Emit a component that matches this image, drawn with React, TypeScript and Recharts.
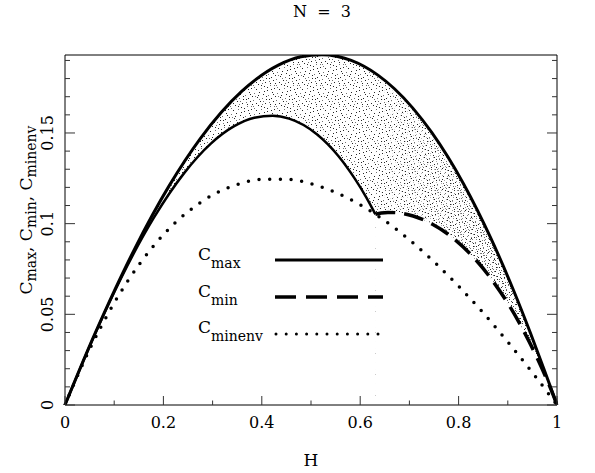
import { Area, ComposedChart, Line, XAxis, YAxis } from "recharts";

// upper bound C_max(H)
const H_MAX = [0, 0.0573, 0.1019, 0.1416, 0.2122, 0.275, 0.359, 0.4337, 0.4794, 0.5222, 0.5817, 0.636, 0.6696, 0.7453, 0.8102, 0.865, 0.9103, 0.9464, 0.9734, 0.9912, 1];
const C_MAX = [0, 0.0371, 0.0639, 0.0861, 0.1211, 0.1469, 0.1729, 0.1874, 0.192, 0.1932, 0.19, 0.1819, 0.1744, 0.1503, 0.1219, 0.0923, 0.0641, 0.0394, 0.0199, 0.0066, 0];

// lower bound C_min(H), first branch up to the cusp
const H_MIN1 = [0, 0.051, 0.0892, 0.1807, 0.2425, 0.2959, 0.343, 0.3848, 0.4221, 0.4555, 0.5119, 0.556, 0.5893, 0.6126, 0.6264, 0.6302, 0.6309];
const C_MIN1 = [0, 0.033, 0.056, 0.1033, 0.128, 0.144, 0.1536, 0.1584, 0.1595, 0.1579, 0.1493, 0.1372, 0.1247, 0.1144, 0.1075, 0.1055, 0.1052];

// second branch after the cusp
const H_MIN2 = [0.6309, 0.6428, 0.6564, 0.6756, 0.7076, 0.7469, 0.7801, 0.8637, 0.9211, 0.9602, 0.9851, 0.9977, 1];
const C_MIN2 = [0.1052, 0.1059, 0.1062, 0.106, 0.1042, 0.0997, 0.0939, 0.0705, 0.0464, 0.0256, 0.0103, 0.0017, 0];

// envelope of the minimum
const H_ENV = [0, 0.05, 0.1, 0.15, 0.2, 0.25, 0.3, 0.35, 0.4, 0.45, 0.5, 0.55, 0.6, 0.65, 0.7, 0.75, 0.8, 0.85, 0.9, 0.95, 1];
const C_ENV = [0, 0.0307, 0.0563, 0.0772, 0.0939, 0.1066, 0.1158, 0.1216, 0.1244, 0.1245, 0.122, 0.1172, 0.1104, 0.1016, 0.0911, 0.079, 0.0655, 0.0508, 0.0348, 0.0179, 0];

const X_TICKS = [0, 0.1, 0.2, 0.3, 0.4, 0.5, 0.6, 0.7, 0.8, 0.9, 1];
const Y_TICKS = [0, 0.01, 0.02, 0.03, 0.04, 0.05, 0.06, 0.07, 0.08, 0.09, 0.1, 0.11, 0.12, 0.13, 0.14, 0.15, 0.16, 0.17, 0.18, 0.19];

const FONT = "'DejaVu Serif', serif";
const Y_DOMAIN: [number, number] = [0, 0.193];

const rows = (hs: number[], cs: number[]) => hs.map((h, i) => ({ h, c: cs[i] }));
const maxRows = rows(H_MAX, C_MAX);
const min1Rows = rows(H_MIN1, C_MIN1);
const min2Rows = rows(H_MIN2, C_MIN2);
const envRows = rows(H_ENV, C_ENV);

// stipple texture for the scatter band (23x21 tile)
const STIPPLE = [
  [0, 1], [5, 0], [11, 2], [17, 1], [21, 4], [3, 5], [8, 4], [14, 6], [19, 8], [1, 9],
  [6, 8], [10, 10], [15, 11], [22, 12], [4, 13], [9, 14], [13, 15], [18, 14], [0, 16], [7, 17],
  [12, 19], [16, 18], [20, 17], [3, 19], [9, 20], [22, 20], [14, 3], [2, 12], [18, 5], [11, 7],
  [6, 15], [20, 10], [16, 15], [1, 3], [13, 12], [8, 1], [21, 1], [5, 11], [17, 20], [10, 17],
];

const isMajor = (v: number, step: number) => Math.abs(v / step - Math.round(v / step)) < 1e-6;
const fmt = (v: number) => String(Math.round(v * 100) / 100);

function BottomTick({ x, y, payload }: any) {
  const major = isMajor(payload.value, 0.2);
  return (
    <g>
      <line x1={x} x2={x} y1={y} y2={y - (major ? 9 : 4.5)} stroke="#333" />
      {major && (
        <text x={x} y={y + 23} textAnchor="middle" fontFamily={FONT} fontSize={16} fill="#000">
          {fmt(payload.value)}
        </text>
      )}
    </g>
  );
}

function TopTick({ x, y, payload }: any) {
  const major = isMajor(payload.value, 0.2);
  return <line x1={x} x2={x} y1={y} y2={y + (major ? 9 : 4.5)} stroke="#333" />;
}

function LeftTick({ x, y, payload }: any) {
  const major = isMajor(payload.value, 0.05);
  return (
    <g>
      <line x1={x} x2={x + (major ? 10 : 5)} y1={y} y2={y} stroke="#333" />
      {major && (
        <text
          x={x - 12}
          y={y}
          textAnchor="middle"
          transform={`rotate(-90 ${x - 12} ${y})`}
          fontFamily={FONT}
          fontSize={16}
          fill="#000"
        >
          {fmt(payload.value)}
        </text>
      )}
    </g>
  );
}

function RightTick({ x, y, payload }: any) {
  const major = isMajor(payload.value, 0.05);
  return <line x1={x} x2={x - (major ? 10 : 5)} y1={y} y2={y} stroke="#333" />;
}

function Sym({ x, y, sub, dy = 8 }: { x: number; y: number; sub: string; dy?: number }) {
  return (
    <text x={x} y={y} fontFamily={FONT} fontSize={17} fill="#000">
      C
      <tspan fontSize={14} dy={dy}>
        {sub}
      </tspan>
    </text>
  );
}

export default function App() {
  return (
    <div style={{ position: "absolute", left: 0, top: 0, width: 595, height: 473, background: "#fff" }}>
      <svg width={0} height={0} style={{ position: "absolute" }}>
        <defs>
          <pattern id="stip" width={23} height={21} patternUnits="userSpaceOnUse">
            {STIPPLE.map(([px, py], i) => (
              <rect key={i} x={px} y={py} width={1} height={1} fill="#000" fillOpacity={i % 3 === 0 ? 0.55 : 0.85} />
            ))}
          </pattern>
          <pattern id="stip2" width={23} height={21} x={11} y={7} patternUnits="userSpaceOnUse">
            {STIPPLE.map(([px, py], i) => (
              <rect key={i} x={22 - px} y={py} width={1} height={1} fill="#000" fillOpacity={0.8} />
            ))}
          </pattern>
          <linearGradient id="fadeGrad" gradientUnits="userSpaceOnUse" x1={370} y1={0} x2={540} y2={0}>
            <stop offset="0%" stopColor="#fff" stopOpacity={0} />
            <stop offset="100%" stopColor="#fff" stopOpacity={1} />
          </linearGradient>
          <mask id="rightFade" maskUnits="userSpaceOnUse" x={0} y={0} width={595} height={473}>
            <rect x={0} y={0} width={595} height={473} fill="url(#fadeGrad)" />
          </mask>
        </defs>
      </svg>
      <ComposedChart width={595} height={473} margin={{ top: 50, right: 33, bottom: 38, left: 0 }}>
        <XAxis
          xAxisId="b"
          dataKey="h"
          type="number"
          domain={[0, 1]}
          ticks={X_TICKS}
          interval={0}
          height={30}
          tickSize={0}
          tickMargin={0}
          tickLine={false}
          axisLine={{ stroke: "#000" }}
          tick={<BottomTick />}
        />
        <XAxis
          xAxisId="t"
          orientation="top"
          dataKey="h"
          type="number"
          domain={[0, 1]}
          ticks={X_TICKS}
          interval={0}
          height={5}
          tickSize={0}
          tickMargin={0}
          tickLine={false}
          axisLine={{ stroke: "#000" }}
          tick={<TopTick />}
        />
        <YAxis
          yAxisId="l"
          type="number"
          domain={Y_DOMAIN}
          allowDataOverflow
          ticks={Y_TICKS}
          interval={0}
          width={65}
          tickSize={0}
          tickMargin={0}
          tickLine={false}
          axisLine={{ stroke: "#000" }}
          tick={<LeftTick />}
        />
        <YAxis
          yAxisId="r"
          orientation="right"
          type="number"
          domain={Y_DOMAIN}
          allowDataOverflow
          ticks={Y_TICKS}
          interval={0}
          width={5}
          tickSize={0}
          tickMargin={0}
          tickLine={false}
          axisLine={{ stroke: "#000" }}
          tick={<RightTick />}
        />
        <Area xAxisId="b" yAxisId="l" data={maxRows} dataKey="c" type="monotone" stroke="none" fill="url(#stip)" fillOpacity={1} isAnimationActive={false} />
        <Area xAxisId="b" yAxisId="l" data={maxRows} dataKey="c" type="monotone" stroke="none" fill="url(#stip2)" fillOpacity={1} mask="url(#rightFade)" isAnimationActive={false} />
        <Area xAxisId="b" yAxisId="l" data={min1Rows} dataKey="c" type="monotone" stroke="none" fill="#fff" fillOpacity={1} isAnimationActive={false} />
        <Area xAxisId="b" yAxisId="l" data={min2Rows} dataKey="c" type="monotone" stroke="none" fill="#fff" fillOpacity={1} isAnimationActive={false} />
        <Line xAxisId="b" yAxisId="l" data={envRows} dataKey="c" type="monotone" stroke="#000" strokeWidth={3.5} strokeDasharray="0 10.7" strokeLinecap="round" dot={false} isAnimationActive={false} />
        <Line xAxisId="b" yAxisId="l" data={min1Rows} dataKey="c" type="monotone" stroke="#000" strokeWidth={2.5} dot={false} isAnimationActive={false} />
        <Line xAxisId="b" yAxisId="l" data={min2Rows} dataKey="c" type="monotone" stroke="#000" strokeWidth={3.5} strokeDasharray="20 9" dot={false} isAnimationActive={false} />
        <Line xAxisId="b" yAxisId="l" data={maxRows} dataKey="c" type="monotone" stroke="#000" strokeWidth={3} dot={false} isAnimationActive={false} />
      </ComposedChart>
      <svg width={595} height={473} style={{ position: "absolute", left: 0, top: 0, pointerEvents: "none" }}>
        <text x={322} y={17} textAnchor="middle" fontFamily={FONT} fontSize={16} fill="#000" style={{ whiteSpace: "pre" }}>
          {"N  =  3"}
        </text>
        <text x={311} y={466} textAnchor="middle" fontFamily={FONT} fontSize={17} fill="#000">
          H
        </text>
        <text x={32} y={210} textAnchor="middle" transform="rotate(-90 32 210)" fontFamily={FONT} fontSize={17} fill="#000">
          C
          <tspan fontSize={14} dy={4}>max</tspan>
          <tspan dy={-4}>, C</tspan>
          <tspan fontSize={14} dy={4}>min</tspan>
          <tspan dy={-4}>, C</tspan>
          <tspan fontSize={14} dy={4}>minenv</tspan>
        </text>
        <Sym x={198} y={260} sub="max" />
        <Sym x={198} y={297} sub="min" />
        <Sym x={198} y={333} sub="minenv" />
        <line x1={275} x2={383} y1={260} y2={260} stroke="#000" strokeWidth={3} />
        <line x1={275} x2={383} y1={297} y2={297} stroke="#000" strokeWidth={3.5} strokeDasharray="21 10" />
        <line x1={276} x2={378} y1={334} y2={334} stroke="#000" strokeWidth={3} strokeDasharray="0 10.2" strokeLinecap="round" />
      </svg>
    </div>
  );
}
